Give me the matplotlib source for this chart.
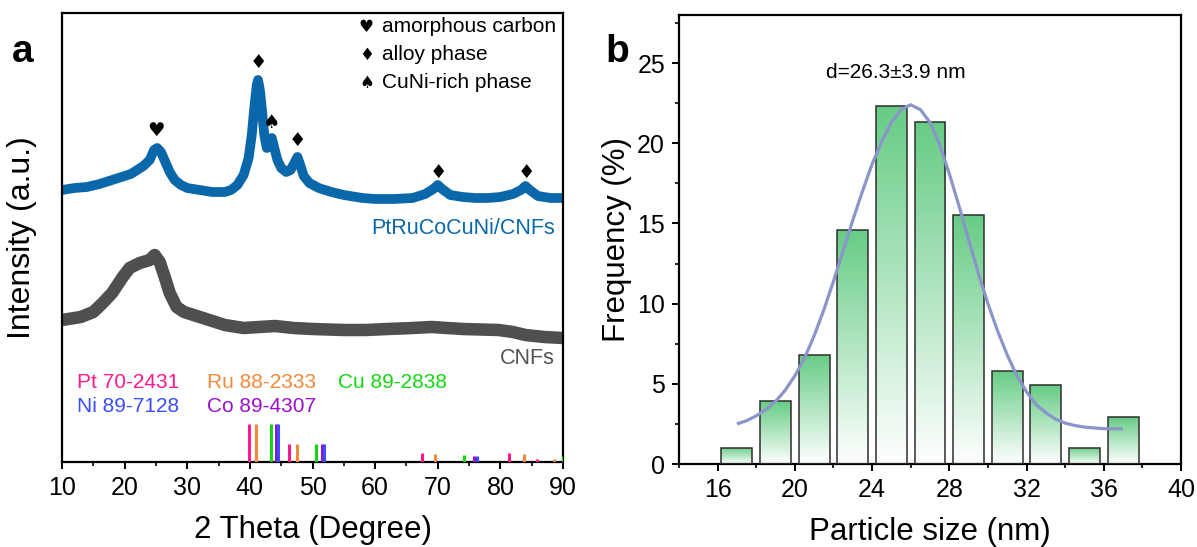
import numpy as np
import matplotlib
matplotlib.use("Agg")
import matplotlib.pyplot as plt
from matplotlib.colors import LinearSegmentedColormap
from matplotlib.ticker import MultipleLocator

plt.rcParams['font.family'] = ['Liberation Sans', 'DejaVu Sans']

# ---------------- Panel a data (XRD) ----------------
blue_x = [10, 12, 14, 16, 18, 20, 21, 22, 23, 24, 24.7, 25.2, 25.8, 26.5, 27.2, 28, 29, 30, 32, 34,
          36, 37, 38, 39, 39.8, 40.3, 40.7, 41.1, 41.3, 41.6, 41.9, 42.3, 42.7, 43.1, 43.5, 43.9,
          44.4, 45, 45.8, 46.5, 47.1, 47.6, 48.1, 48.6, 49.5, 51, 53, 55, 58, 60, 63, 66, 68, 69.3,
          70, 70.7, 72, 74, 76, 78, 80, 82, 83.3, 84, 84.7, 86, 88, 90]
blue_y = [272, 274, 275, 278, 282, 286, 288, 292, 296, 302, 312, 314, 310, 300, 290, 282, 277, 274, 272, 270,
          270, 272, 277, 287, 304, 327, 354, 377, 382, 372, 354, 327, 314, 317, 324, 314,
          302, 294, 290, 292, 299, 305, 296, 286, 279, 274, 270, 267, 264, 263, 263, 264, 268, 273,
          277, 273, 267, 265, 264, 264, 265, 268, 272, 276, 272, 266, 264, 264]

gray_x = [10, 12, 13, 15, 16.5, 18, 19.7, 20.8, 22.4, 24, 24.8, 25.6, 26.4, 27.2, 28.3, 29.5, 31, 33.5,
          36, 39, 41.5, 44, 47, 50, 55, 58.5, 62, 66, 69, 74, 79.7, 82, 84, 87, 90]
gray_y = [142, 144, 145, 150, 159, 169, 185, 194, 199, 202, 207, 200, 185, 169, 155, 150, 147, 142,
          137, 134, 135, 136, 134, 133, 132, 132, 133, 134, 135, 133, 132, 130, 127, 125, 124]

pt_pos = [39.8, 46.3, 67.5, 81.4, 85.8]
pt_h = [38, 18, 9, 9, 3]
ru_pos = [40.9, 47.5, 69.5, 83.8, 88.5]
ru_h = [38, 18, 8, 8, 3]
cu_pos = [43.4, 50.5, 74.2, 90.0]
cu_h = [38, 18, 7, 6]
co_pos = [44.2, 51.5, 75.85]
co_h = [38, 18, 6]
ni_pos = [44.5, 51.8, 76.2]
ni_h = [38, 18, 6]

ref_labels = ["Pt 70-2431", "Ru 88-2333", "Cu 89-2838", "Ni 89-7128", "Co 89-4307"]

peak_marks = [("\u2665", 25.0, 332), ("\u2666", 41.3, 400), ("\u2660", 43.5, 339),
              ("\u2666", 47.6, 321), ("\u2666", 70.1, 290), ("\u2666", 84.2, 289)]
legend_items = [("\u2665", "amorphous carbon"), ("\u2666", "alloy phase"), ("\u2660", "CuNi-rich phase")]

# ---------------- Panel b data (size histogram) ----------------
size_centers = [17, 19, 21, 23, 25, 27, 29, 31, 33, 35, 37]
size_freq = [1.0, 3.9, 6.8, 14.6, 22.3, 21.3, 15.5, 5.8, 4.9, 1.0, 2.9]
fit_x = [17.0, 17.5, 18.0, 18.5, 19.0, 19.5, 20.0, 20.5, 21.0, 21.5, 22.0, 22.5, 23.0, 23.5, 24.0,
         24.5, 25.0, 25.5, 26.0, 26.5, 27.0, 27.5, 28.0, 28.5, 29.0, 29.5, 30.0, 30.5, 31.0, 31.5,
         32.0, 32.5, 33.0, 33.5, 34.0, 34.5, 35.0, 35.5, 36.0, 36.5, 37.0]
fit_y = [2.5, 2.7, 3.0, 3.4, 3.9, 4.6, 5.5, 6.6, 8.0, 9.6, 11.4, 13.3, 15.2, 17.0, 18.7,
         20.1, 21.3, 22.1, 22.4, 22.1, 21.3, 19.9, 18.1, 16.1, 14.0, 11.9, 10.0, 8.3, 6.8, 5.5,
         4.5, 3.7, 3.2, 2.8, 2.55, 2.4, 2.3, 2.25, 2.2, 2.2, 2.2]

W, H = 1197, 547
fig = plt.figure(figsize=(W / 100, H / 100), dpi=100)

def box(l, t, r, b):
    return [l / W, (H - b) / H, (r - l) / W, (b - t) / H]

ax1 = fig.add_axes(box(62, 13, 563, 462))
ax2 = fig.add_axes(box(679, 15, 1181, 464))

blue_c = '#0a68aa'
gray_c = '#4f4f4f'
sym_font = ['DejaVu Sans']

# ---- panel a ----
ax1.plot(gray_x, gray_y, color=gray_c, lw=9, solid_joinstyle='round', solid_capstyle='butt', zorder=2)
ax1.plot(blue_x, blue_y, color=blue_c, lw=7, solid_joinstyle='round', solid_capstyle='butt', zorder=2)

ref_sets = [(pt_pos, pt_h, '#ff1a8c'), (ru_pos, ru_h, '#f5893a'), (cu_pos, cu_h, '#12d812'),
            (co_pos, co_h, '#9a10cc'), (ni_pos, ni_h, '#3a4dff')]
for pos, hh, c in ref_sets:
    ax1.vlines(pos, 0, hh, colors=c, lw=2.2, zorder=3)

lab_colors = ['#ff1a8c', '#f5893a', '#12d812', '#3a4dff', '#9a10cc']
lab_xy = [(12.4, 80), (33.2, 80), (54.1, 80), (12.4, 55), (33.2, 55)]
for t, (x, y), c in zip(ref_labels, lab_xy, lab_colors):
    ax1.text(x, y, t, color=c, fontsize=15, ha='left', va='center')

ax1.text(88.7, 234, "PtRuCoCuNi/CNFs", color=blue_c, fontsize=15.5, ha='right', va='center')
ax1.text(88.7, 103, "CNFs", color='#555555', fontsize=15.5, ha='right', va='center')

for sym, x, y in peak_marks:
    ax1.text(x, y, sym, fontsize=14, ha='center', va='center', color='black', family=sym_font)

for i, (sym, t) in enumerate(legend_items):
    y = 435 - 28 * i
    ax1.text(58.6, y, sym, fontsize=12, ha='center', va='center', family=sym_font)
    ax1.text(61.1, y, t, fontsize=15, ha='left', va='center')

ax1.set_xlim(10, 90)
ax1.set_ylim(0, 449)
ax1.xaxis.set_major_locator(MultipleLocator(10))
ax1.xaxis.set_minor_locator(MultipleLocator(5))
ax1.set_yticks([])
ax1.set_xlabel("2 Theta (Degree)", fontsize=22.5)
ax1.xaxis.set_label_coords(0.5, -(530 - 462) / 449)
ax1.xaxis.label.set_va('center')
ax1.set_ylabel("Intensity (a.u.)", fontsize=23)
ax1.yaxis.set_label_coords((22 - 62) / 501, 0.5)
ax1.yaxis.label.set_va('center')

# ---- panel b ----
cmap = LinearSegmentedColormap.from_list('g', ['#ffffff', '#66cc85'])
grad = np.linspace(0, 1, 256).reshape(-1, 1)
for xc, h in zip(size_centers, size_freq):
    b = ax2.bar(xc, h, width=1.6, facecolor='none', edgecolor='#2e2e2e', lw=1.1, zorder=3)[0]
    im = ax2.imshow(grad, extent=[xc - 0.8, xc + 0.8, 0, h], origin='lower', cmap=cmap,
                    aspect='auto', zorder=2, interpolation='bilinear')
    im.set_clip_path(b)

ax2.plot(fit_x, fit_y, color='#8c95c9', lw=2.3, zorder=4, solid_capstyle='butt')
ax2.text(21.6, 24.4, "d=26.3\u00b13.9 nm", fontsize=15, ha='left', va='center')

ax2.set_xlim(14, 40)
ax2.set_ylim(0, 28)
ax2.xaxis.set_major_locator(MultipleLocator(4))
ax2.xaxis.set_minor_locator(MultipleLocator(2))
ax2.yaxis.set_major_locator(MultipleLocator(5))
ax2.yaxis.set_minor_locator(MultipleLocator(2.5))
ax2.set_xticks([16, 20, 24, 28, 32, 36, 40])
ax2.set_xlabel("Particle size (nm)", fontsize=22.5)
ax2.xaxis.set_label_coords(0.5, -(532 - 464) / 449)
ax2.xaxis.label.set_va('center')
ax2.set_ylabel("Frequency (%)", fontsize=22.5)
ax2.yaxis.set_label_coords((617 - 679) / 502, 0.5)
ax2.yaxis.label.set_va('center')

for ax in (ax1, ax2):
    for s in ax.spines.values():
        s.set_linewidth(1.6)
    ax.tick_params(which='major', direction='out', length=5, width=1.4, labelsize=18, pad=5)
    ax.tick_params(which='minor', direction='out', length=3, width=1.2)
    ax.tick_params(top=False, right=False)

fig.text(12 / W, 1 - 62 / H, "a", fontsize=28, fontweight='bold', ha='left', va='baseline')
fig.text(605 / W, 1 - 62 / H, "b", fontsize=28, fontweight='bold', ha='left', va='baseline')

fig.savefig("out.png", dpi=100)
